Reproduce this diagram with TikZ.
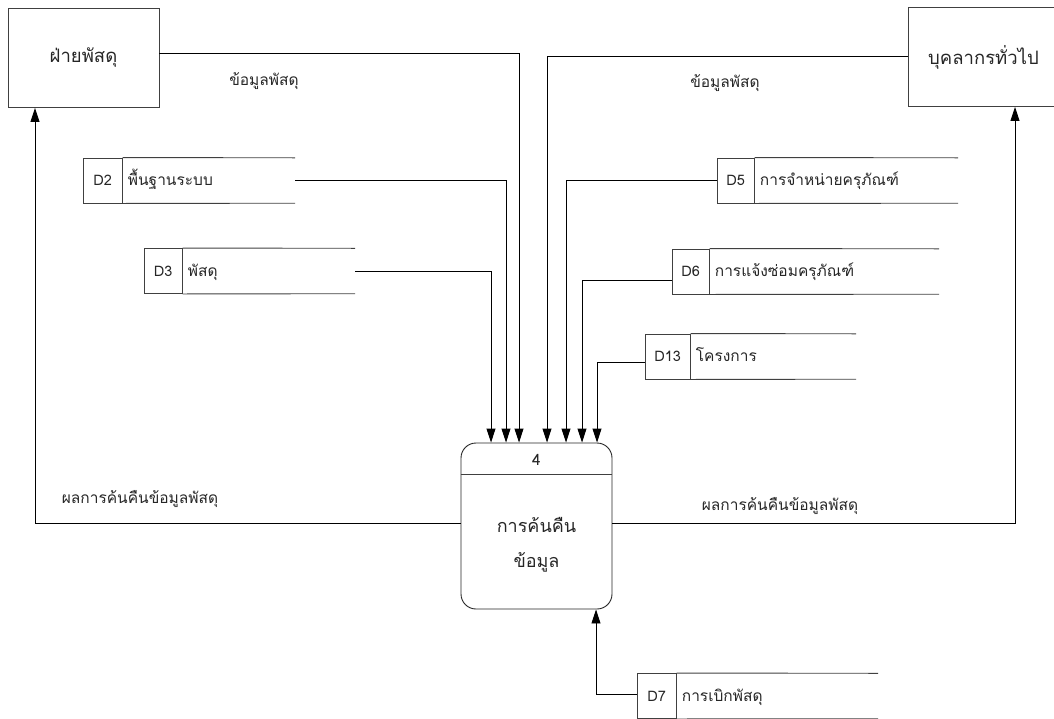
\documentclass[tikz,border=0pt]{standalone}
\usepackage{fontspec}
\setmainfont[Script=Thai]{Loma}
\usetikzlibrary{positioning, arrows.meta}

\begin{document}
\begin{tikzpicture}[x=1pt, y=-1pt,
entity/.style={rectangle, draw=black!75, line width=0.9pt, minimum width=151, minimum height=99, inner sep=0, font=\fontsize{18.5}{22}\selectfont, text=black!85},
process/.style={rectangle, rounded corners=15, draw=black!85, line width=0.9pt, minimum width=151, minimum height=166, inner sep=0},
storearea/.style={minimum height=45, inner sep=0},
storeid/.style={rectangle, draw=black!75, line width=0.9pt, minimum height=45, inner sep=0, anchor=west, font=\fontsize{14.5}{17}\selectfont, text=black!85},
storetext/.style={font=\fontsize{15.5}{18}\selectfont, text=black!85, inner sep=0, anchor=base west},
flowlabel/.style={font=\fontsize{15.5}{18}\selectfont, text=black!85},
storeline/.style={draw=black!75, line width=0.9pt},
flow/.style={draw=black, line width=0.9pt, -{Triangle[width=9, length=14]}},
]
    \useasboundingbox (0,0) rectangle (1054,718);

    % external entities
    \node[entity]      (supply)      at (83.5,58)          {ฝ่ายพัสดุ};
    \node[entity]      (staff)       at (983.5,57)         {บุคลากรทั่วไป};

    % process 4
    \node[process]     (proc)        at (536.5,526)        {};
    \node[flowlabel]   (procid)      at (536.5,460)        {4};
    \node[font=\fontsize{18}{35}\selectfont, text=black!85, align=center] (proctxt) at (536.5,545) {การค้นคืน\\ข้อมูล};
    \draw[storeline] ([yshift=-32]proc.north west) -- ([yshift=-32]proc.north east);

    % data stores
    \node[storearea, minimum width=212] (d2)  at (189,180.5)   {};
    \node[storeid, minimum width=39]    (d2id) at (d2.west)    {D2};
    \node[storetext]                    (d2txt) at ([xshift=5]d2id.base east) {พื้นฐานระบบ};

    \node[storearea, minimum width=211] (d3)  at (249.5,271)   {};
    \node[storeid, minimum width=38]    (d3id) at (d3.west)    {D3};
    \node[storetext]                    (d3txt) at ([xshift=5]d3id.base east) {พัสดุ};

    \node[storearea, minimum width=241] (d5)  at (837.5,180.5) {};
    \node[storeid, minimum width=37]    (d5id) at (d5.west)    {D5};
    \node[storetext]                    (d5txt) at ([xshift=5]d5id.base east) {การจำหน่ายครุภัณฑ์};

    \node[storearea, minimum width=267] (d6)  at (805.5,271.5) {};
    \node[storeid, minimum width=37]    (d6id) at (d6.west)    {D6};
    \node[storetext]                    (d6txt) at ([xshift=5]d6id.base east) {การแจ้งซ่อมครุภัณฑ์};

    \node[storearea, minimum width=211] (d13) at (750.5,356.5) {};
    \node[storeid, minimum width=45]    (d13id) at (d13.west)  {D13};
    \node[storetext]                    (d13txt) at ([xshift=5]d13id.base east) {โครงการ};

    \node[storearea, minimum width=241] (d7)  at (757.5,696)   {};
    \node[storeid, minimum width=39]    (d7id) at (d7.west)    {D7};
    \node[storetext]                    (d7txt) at ([xshift=5]d7id.base east) {การเบิกพัสดุ};

    \foreach \s in {d2, d3, d5, d6, d13, d7}{
        \draw[storeline] (\s id.north east) -- (\s.north east);
        \draw[storeline] (\s id.south east) -- (\s.south east);
    }

    % flow labels
    \node[flowlabel]   (lblin1)      at (264,81)           {ข้อมูลพัสดุ};
    \node[flowlabel]   (lblin2)      at (725,83)           {ข้อมูลพัสดุ};
    \node[flowlabel]   (lblout1)     at (140,499)          {ผลการค้นคืนข้อมูลพัสดุ};
    \node[flowlabel]   (lblout2)     at (780,506)          {ผลการค้นคืนข้อมูลพัสดุ};

    % flows into the process
    \draw[flow] (d3.east) -| ([xshift=-45.5]proc.north);
    \draw[flow] (d2.east) -| ([xshift=-30.5]proc.north);
    \draw[flow] ([yshift=5]supply.east) -| ([xshift=-17.5]proc.north);
    \draw[flow] ([yshift=1]staff.west) -| ([xshift=10.5]proc.north);
    \draw[flow] (d5.west) -| ([xshift=29.5]proc.north);
    \draw[flow] ([yshift=-8.5]d6.west) -| ([xshift=45.5]proc.north);
    \draw[flow] ([yshift=-5.5]d13.west) -| ([xshift=60.5]proc.north);
    \draw[flow] ([yshift=2]d7.west) -| ([xshift=59.5]proc.south);

    % flows out of the process
    \draw[flow] ([yshift=3]proc.west) -| ([xshift=-48.5]supply.south);
    \draw[flow] ([yshift=3]proc.east) -| ([xshift=31.5]staff.south);
\end{tikzpicture}
\end{document}
